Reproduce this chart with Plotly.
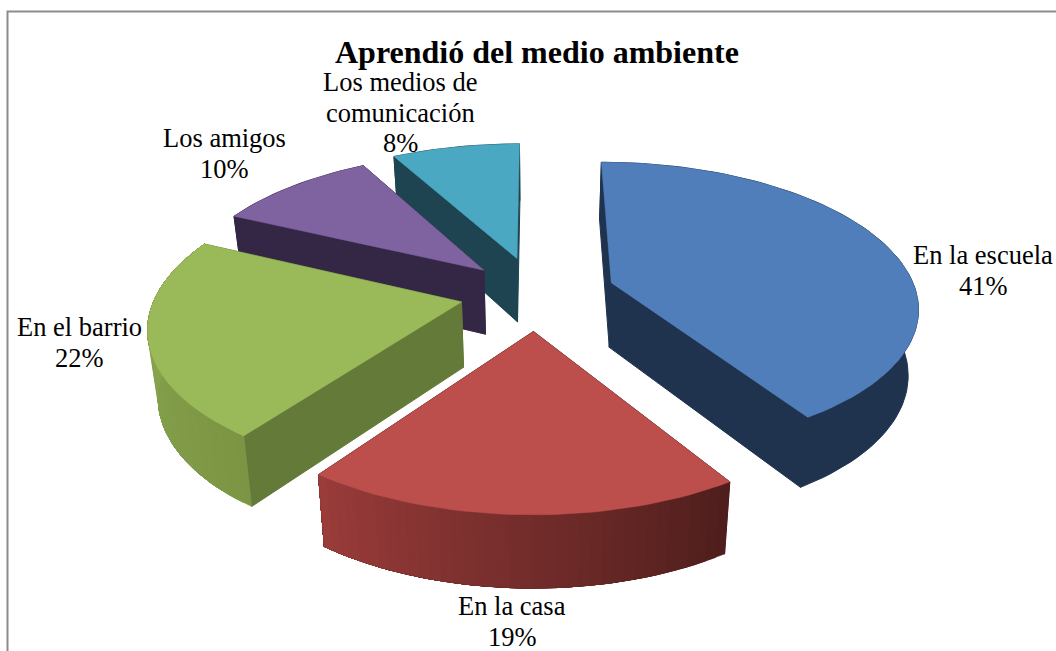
import math
import plotly.graph_objects as go

# ---- data ----
categories = [["En la escuela"], ["En la casa"], ["En el barrio"], ["Los amigos"], ["Los medios de", "comunicación"]]
values = [41, 19, 22, 10, 8]
percent_labels = ["41%", "19%", "22%", "10%", "8%"]
title_text = "Aprendió del medio ambiente"

# ---- styles ----
top_colors = ["#4F7EBA", "#BC4F4C", "#9ABA5A", "#7F62A0", "#4AA8C3"]
side_colors = ["#1F334F", "#4E1E1C", "#647A39", "#332745", "#1D4450"]
wall_from = ["#1F334F", "#4E1E1C", "#7B9544", "#332745", "#1D4450"]   # at wedge start angle
wall_to = ["#1F334F", "#9A3C3A", "#90AC52", "#332745", "#1D4450"]     # at wedge end angle
draw_order = [4, 3, 0, 2, 1]
label_xy = [(983, 255), (512, 606), (79, 327), (224, 138), (400, 82)]
pulls = [0.26, 0.26, 0.25, 0.24, 0.26]
LINE_PITCH = 30.5

CX, CY = 536, 293
RX, RY = 305, 142
PERSP = 0.1536
FONT = "Liberation Serif"


def project(u, v):
    w = 1 + PERSP * v
    return CX + u * RX / w, CY - v * RY / w


def lower(u, v):
    x, y = project(u, v)
    return x - 0.027 * (x - CX), y + 65 - 6.5 * v


def hex_mix(a, b, t):
    ca = [int(a[i:i + 2], 16) for i in (1, 3, 5)]
    cb = [int(b[i:i + 2], 16) for i in (1, 3, 5)]
    return "rgb(%d,%d,%d)" % tuple(round(p + (q - p) * t) for p, q in zip(ca, cb))


def polygon(points, color, width=0.5):
    xs = [p[0] for p in points] + [points[0][0]]
    ys = [p[1] for p in points] + [points[0][1]]
    return go.Scatter(x=xs, y=ys, mode="lines", fill="toself", fillcolor=color,
                      line=dict(color=color, width=width), hoverinfo="skip", showlegend=False)


total = sum(values)
starts, acc = [], 0
for val in values:
    starts.append(acc / total * 2 * math.pi)
    acc += val

fig = go.Figure()
for i in draw_order:
    a0 = starts[i]
    a1 = a0 + values[i] / total * 2 * math.pi
    mid = (a0 + a1) / 2
    ax, ay = pulls[i] * math.sin(mid), pulls[i] * math.cos(mid)
    n = max(12, int(values[i] * 2))
    angles = [a0 + (a1 - a0) * k / n for k in range(n + 1)]
    rim = [(ax + math.sin(t), ay + math.cos(t)) for t in angles]
    # radial side faces
    for end in (rim[0], rim[-1]):
        fig.add_trace(polygon([project(ax, ay), project(*end), lower(*end), lower(ax, ay)], side_colors[i], 1))
    # outer wall: one polygon for a flat shade, overlapping strips for a gradient
    if wall_from[i] == wall_to[i]:
        fig.add_trace(polygon([project(*p) for p in rim] + [lower(*p) for p in reversed(rim)], wall_from[i], 1))
    else:
        for k in range(n):
            col = hex_mix(wall_from[i], wall_to[i], (k + 0.5) / n)
            tail = rim[k:]  # each strip runs on to the wedge end; the next one paints over it
            fig.add_trace(polygon([project(*p) for p in tail] + [lower(*p) for p in reversed(tail)], col))
    # top face
    fig.add_trace(polygon([project(ax, ay)] + [project(*p) for p in rim], top_colors[i]))

annotations = [dict(x=537, y=52, text="<b>%s</b>" % title_text, showarrow=False, xanchor="center", yanchor="middle",
                    font=dict(family=FONT, size=32, color="#000000"))]
for name_lines, pct, (lx, ly) in zip(categories, percent_labels, label_xy):
    for j, line in enumerate(name_lines + [pct]):
        annotations.append(dict(x=lx, y=ly + j * LINE_PITCH, text=line, showarrow=False, align="center",
                                xanchor="center", yanchor="middle", font=dict(family=FONT, size=26.5, color="#000000")))

fig.update_layout(
    width=1056, height=651, autosize=False, margin=dict(l=0, r=0, t=0, b=0),
    paper_bgcolor="white", plot_bgcolor="white", showlegend=False,
    xaxis=dict(range=[0, 1056], visible=False, fixedrange=True),
    yaxis=dict(range=[651, 0], visible=False, fixedrange=True),
    annotations=annotations,
    shapes=[dict(type="path", path="M 7.5 651 L 7.5 11.5 L 1056 11.5", line=dict(color="#8C8C8C", width=2), layer="below")],
)
fig.write_html("out.html", config=dict(displayModeBar=False),
               post_script="document.body.style.margin='0';document.documentElement.style.overflow='hidden';")
